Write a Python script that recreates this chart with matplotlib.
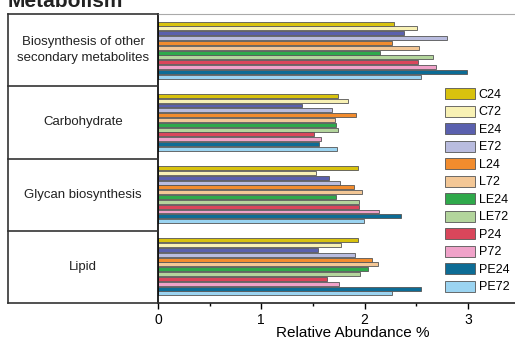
import matplotlib
matplotlib.use("Agg")
import matplotlib.pyplot as plt
import numpy as np
from matplotlib.lines import Line2D
from matplotlib.patches import Patch

plt.rcParams['font.family'] = ['Liberation Sans', 'DejaVu Sans']

categories = ["Biosynthesis of other\nsecondary metabolites", "Carbohydrate",
              "Glycan biosynthesis", "Lipid"]
series = ["C24", "C72", "E24", "E72", "L24", "L72", "LE24", "LE72",
          "P24", "P72", "PE24", "PE72"]
values = {
    "C24":  [2.28, 1.74, 1.94, 1.94],
    "C72":  [2.51, 1.84, 1.53, 1.77],
    "E24":  [2.38, 1.39, 1.66, 1.55],
    "E72":  [2.80, 1.68, 1.76, 1.91],
    "L24":  [2.27, 1.92, 1.90, 2.07],
    "L72":  [2.53, 1.71, 1.97, 2.13],
    "LE24": [2.15, 1.72, 1.72, 2.03],
    "LE72": [2.66, 1.74, 1.95, 1.96],
    "P24":  [2.52, 1.51, 1.95, 1.64],
    "P72":  [2.69, 1.58, 2.14, 1.75],
    "PE24": [2.99, 1.56, 2.35, 2.55],
    "PE72": [2.55, 1.73, 1.99, 2.27],
}
colors = ["#d8c20e", "#f8f1b4", "#5a60ae", "#b9bcdf", "#f28c2e", "#f3c796",
          "#2fa94b", "#b3d59c", "#d9465b", "#f0a2c9", "#0d6c95", "#9bd4f1"]
xticks = [0, 1, 2, 3]
xticklabels = ["0", "1", "2", "3"]

W, H = 515, 340
fig = plt.figure(figsize=(W / 100, H / 100), dpi=100)
x0, x1 = 158, 515
ytop, ybot = 14, 303
ax = fig.add_axes([x0 / W, 1 - ybot / H, (x1 - x0) / W, (ybot - ytop) / H])

n = len(series)
span = 0.80
slot = span / n
for j, s in enumerate(series):
    pos = np.arange(len(categories)) + 0.5 - span / 2 + slot * (j + 0.5)
    ax.barh(pos, values[s], height=slot * 0.82, color=colors[j],
            edgecolor="#555555", linewidth=0.6, label=s)

ax.set_ylim(len(categories), 0)
ax.set_xlim(0, (x1 - x0) / 103.3)
ax.set_yticks([])
ax.set_xticks(xticks)
ax.set_xticklabels(xticklabels, fontsize=10)
ax.set_xticks([0.5, 1.5, 2.5], minor=True)
ax.tick_params(axis='x', which='major', length=4, width=1, direction='out', pad=3)
ax.tick_params(axis='x', which='minor', length=2.5, width=1, direction='out')
ax.spines['right'].set_visible(False)
ax.spines['top'].set_color("#aaaaaa")
ax.spines['left'].set_color("black")
ax.spines['bottom'].set_color("#222222")
ax.spines['left'].set_linewidth(1.2)
ax.spines['bottom'].set_linewidth(1.2)
ax.set_xlabel("Relative Abundance %", fontsize=11, labelpad=0)
ax.xaxis.set_label_coords((353 - x0) / (x1 - x0), -(333 - ybot) / (ybot - ytop))
ax.xaxis.label.set_va('center')

# left table
lx = 8
def fl(xa, ya, xb, yb, c="#333333", lw=1.2):
    fig.add_artist(Line2D([xa / W, xb / W], [1 - ya / H, 1 - yb / H], color=c, lw=lw))
fl(lx, ytop, x0, ytop)
fl(lx, ytop, lx, ybot)
fl(lx, ybot, x0, ybot)
gh = (ybot - ytop) / len(categories)
for i in range(1, len(categories)):
    fl(lx, ytop + gh * i, x0, ytop + gh * i)
for i, c in enumerate(categories):
    fig.text((lx + x0) / 2 / W, 1 - (ytop + gh * (i + 0.5)) / H, c,
             ha='center', va='center', fontsize=9.5, color="#222222", linespacing=1.4)

# partial title (cropped at top, as in the reference)
fig.text(8 / W, 1 - 7 / H, "Metabolism", ha='left', va='baseline', fontsize=15,
         fontweight='bold', color="#222222")

handles = [Patch(facecolor=colors[j], edgecolor="#555555", linewidth=0.6, label=s)
           for j, s in enumerate(series)]
leg = fig.legend(handles=handles, loc='upper left',
                 bbox_to_anchor=(440 / W, 1 - 83 / H), frameon=False,
                 fontsize=9, handlelength=2.4, handleheight=1.0,
                 labelspacing=0.37, handletextpad=0.3, borderaxespad=0)

fig.savefig("out.png", dpi=100)
